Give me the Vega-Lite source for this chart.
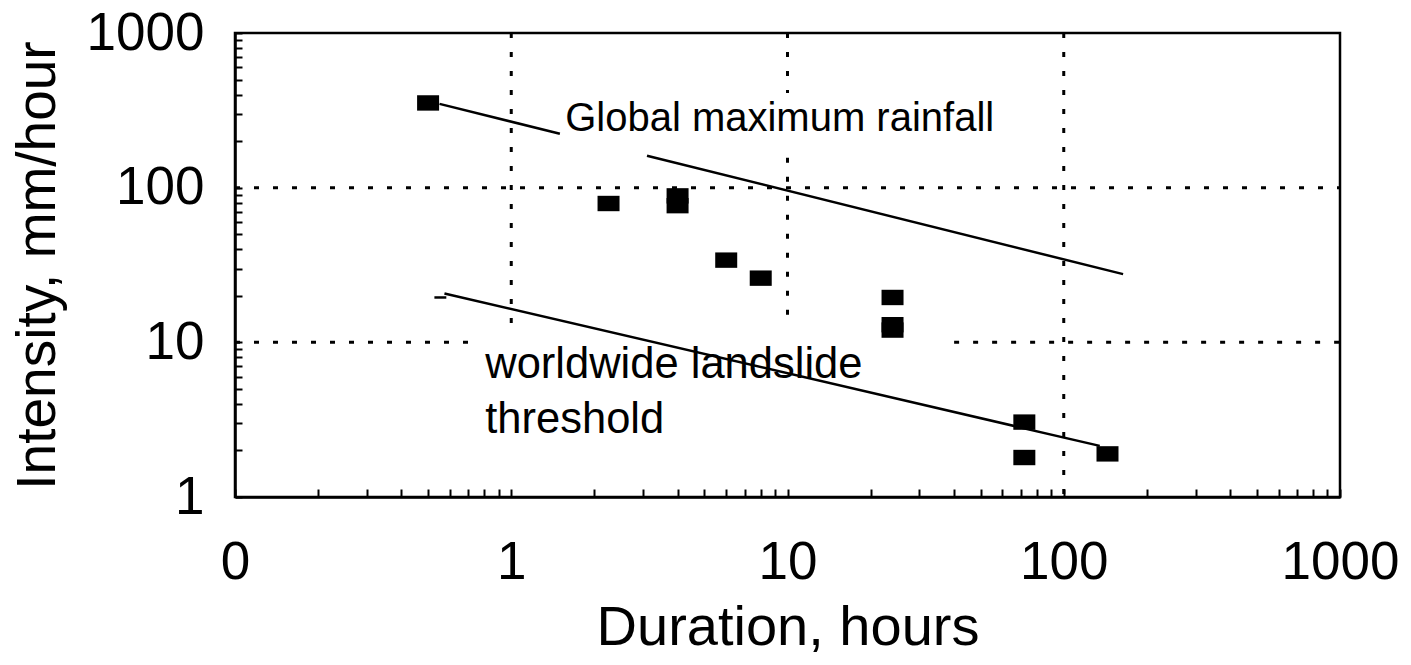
{
  "$schema": "https://vega.github.io/schema/vega-lite/v6.json",
  "width": 1105,
  "height": 464,
  "autosize": {"type": "none"},
  "padding": {"left": 235, "top": 33, "right": 71, "bottom": 168},
  "background": "white",
  "config": {
    "view": {"stroke": "black", "strokeWidth": 2.5},
    "font": "Liberation Sans"
  },
  "datasets": {
    "grid": [
      {"x": 1, "x2": 1, "y": 1000, "y2": 12.5},
      {"x": 10, "x2": 10, "y": 1000, "y2": 410},
      {"x": 10, "x2": 10, "y": 156, "y2": 12.5},
      {"x": 100, "x2": 100, "y": 1000, "y2": 1},
      {"x": 0.1, "x2": 1000, "y": 100, "y2": 100},
      {"x": 0.1, "x2": 0.753, "y": 10, "y2": 10},
      {"x": 40.1, "x2": 1000, "y": 10, "y2": 10}
    ],
    "lines": [
      {"s": "g1", "x": 0.55, "y": 348},
      {"s": "g1", "x": 1.5, "y": 223},
      {"s": "g2", "x": 3.1, "y": 161},
      {"s": "g2", "x": 164, "y": 27.6},
      {"s": "t", "x": 0.573, "y": 20.7},
      {"s": "t", "x": 135, "y": 2.14},
      {"s": "d", "x": 0.527, "y": 19.5},
      {"s": "d", "x": 0.582, "y": 19.5}
    ],
    "points": [
      {"x": 0.5, "y": 353},
      {"x": 2.25, "y": 79},
      {"x": 4, "y": 88.5},
      {"x": 4, "y": 76.5},
      {"x": 6, "y": 34},
      {"x": 8, "y": 26},
      {"x": 24, "y": 19.5},
      {"x": 24, "y": 13},
      {"x": 24, "y": 12},
      {"x": 72, "y": 3.05},
      {"x": 72, "y": 1.8},
      {"x": 144, "y": 1.9}
    ],
    "labelGlobal": [
      {"x": 1.567, "y": 233, "label": "Global maximum rainfall"}
    ],
    "labelThreshold": [
      {"x": 0.805, "y": 5.86, "label": "worldwide landslide"},
      {"x": 0.805, "y": 2.59, "label": "threshold"}
    ]
  },
  "encoding": {
    "x": {
      "field": "x", "type": "quantitative",
      "scale": {"type": "log", "domain": [0.1, 1000], "nice": false, "zero": false},
      "axis": {
        "title": "Duration, hours",
        "values": [0.1,0.2,0.3,0.4,0.5,0.6,0.7,0.8,0.9,1,2,3,4,5,6,7,8,9,10,20,30,40,50,60,70,80,90,100,200,300,400,500,600,700,800,900,1000],
        "labelExpr": "abs(log(datum.value)/LN10 - round(log(datum.value)/LN10)) > 0.0001 ? '' : (datum.value < 0.5 ? '0' : format(datum.value, 'd'))",
        "grid": false,
        "tickSize": -8, "tickWidth": 2, "tickColor": "black",
        "domainColor": "black", "domainWidth": 2.5,
        "labelFont": "Liberation Sans", "labelFontSize": 53, "labelColor": "black",
        "labelPadding": 47, "labelFlush": false, "labelOverlap": false,
        "titleFont": "Liberation Sans", "titleFontSize": 56, "titleFontWeight": "normal",
        "titleColor": "black", "titlePadding": 11
      }
    },
    "y": {
      "field": "y", "type": "quantitative",
      "scale": {"type": "log", "domain": [1, 1000], "nice": false, "zero": false},
      "axis": {
        "title": "Intensity, mm/hour",
        "values": [1,2,3,4,5,6,7,8,9,10,20,30,40,50,60,70,80,90,100,200,300,400,500,600,700,800,900,1000],
        "labelExpr": "abs(log(datum.value)/LN10 - round(log(datum.value)/LN10)) > 0.0001 ? '' : format(datum.value, 'd')",
        "grid": false,
        "tickSize": -7, "tickWidth": 2, "tickColor": "black",
        "domainColor": "black", "domainWidth": 2.5,
        "labelFont": "Liberation Sans", "labelFontSize": 53, "labelColor": "black",
        "labelPadding": 38, "labelFlush": false, "labelOverlap": false,
        "titleFont": "Liberation Sans", "titleFontSize": 55, "titleFontWeight": "normal",
        "titleColor": "black", "titlePadding": 20
      }
    }
  },
  "layer": [
    {
      "data": {"name": "grid"},
      "mark": {"type": "rule", "color": "black", "strokeWidth": 3, "strokeDash": [5, 14]},
      "encoding": {
        "x2": {"field": "x2"},
        "y2": {"field": "y2"}
      }
    },
    {
      "data": {"name": "lines"},
      "mark": {"type": "line", "color": "black", "strokeWidth": 2.5},
      "encoding": {
        "detail": {"field": "s"}
      }
    },
    {
      "data": {"name": "labelGlobal"},
      "mark": {"type": "text", "align": "left", "baseline": "alphabetic", "fontSize": 40, "font": "Liberation Sans", "color": "black"},
      "encoding": {
        "text": {"field": "label"}
      }
    },
    {
      "data": {"name": "labelThreshold"},
      "mark": {"type": "text", "align": "left", "baseline": "alphabetic", "fontSize": 43.5, "font": "Liberation Sans", "color": "black"},
      "encoding": {
        "text": {"field": "label"}
      }
    },
    {
      "data": {"name": "points"},
      "mark": {"type": "point", "shape": "M-1,-0.7H1V0.7H-1Z", "size": 484, "filled": true, "color": "black", "opacity": 1, "strokeWidth": 0}
    }
  ]
}
